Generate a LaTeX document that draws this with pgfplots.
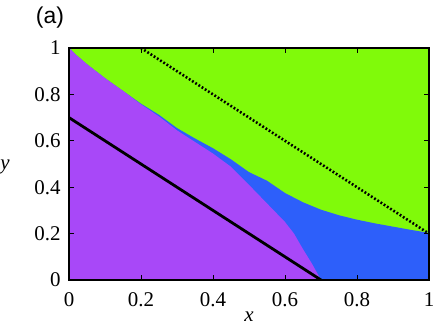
\documentclass[border=0pt]{standalone}
\usepackage{fontspec}
\setmainfont{Liberation Serif}
\newfontfamily\labelsans{Liberation Sans}
\usepackage{pgfplots}
\pgfplotsset{compat=1.18}

\definecolor{regiongreen}{RGB}{128,250,10}
\definecolor{regionblue}{RGB}{45,95,250}
\definecolor{regionpurple}{RGB}{168,72,248}

% upper edge of the coloured (non-green) region
\pgfplotstableread{
x y
0 1.0
0.02 0.97
0.05 0.93
0.1 0.87
0.15 0.815
0.2 0.76
0.25 0.712
0.3 0.655
0.35 0.61
0.4 0.568
0.45 0.52
0.5 0.465
0.55 0.428
0.6 0.375
0.65 0.335
0.7 0.303
0.75 0.279
0.8 0.26
0.85 0.244
0.9 0.23
0.95 0.216
1.0 0.203
}\greenedge

% upper edge of the purple region
\pgfplotstableread{
x y
0 1.0
0.02 0.97
0.05 0.93
0.1 0.87
0.15 0.815
0.2 0.757
0.25 0.705
0.3 0.645
0.35 0.595
0.4 0.545
0.45 0.488
0.5 0.41
0.55 0.33
0.6 0.25
0.625 0.2
0.65 0.133
0.675 0.07
0.7 0
}\purpleedge

\begin{document}
\begin{tikzpicture}
\useasboundingbox (-69bp,-50bp) rectangle (367bp,280bp);
\begin{axis}[
  scale only axis,
  width=360bp, height=232bp,
  xmin=0, xmax=1, ymin=0, ymax=1,
  xtick={0,0.2,...,1}, ytick={0,0.2,...,1},
  xticklabels={0,0.2,0.4,0.6,0.8,1},
  yticklabels={0,0.2,0.4,0.6,0.8,1},
  tick align=inside, xtick pos=both, ytick pos=both,
  major tick length=5bp,
  tick style={line width=0.9bp, black},
  axis line style={line width=1.3bp},
  axis on top,
  ticklabel style={font=\rmfamily\fontsize{21}{24}\selectfont},
  /pgf/number format/assume math mode=true,
  xticklabel style={yshift=-9bp},
  yticklabel style={xshift=-5bp},
  xlabel={\fontsize{21}{24}\selectfont\textit{x}},
  xlabel style={at={(axis description cs:0.5,0)}, anchor=center, yshift=-37bp},
  ylabel={\fontsize{21}{24}\selectfont\textit{y}},
  ylabel style={rotate=-90, at={(axis description cs:0,0.487)}, anchor=center, xshift=-64bp},
]
\addplot[fill=regiongreen, draw=none] coordinates {(0,1) (1,1)} \closedcycle;
\addplot[fill=regionblue, draw=none] table {\greenedge} \closedcycle;
\addplot[fill=regionpurple, draw=none] table {\purpleedge} \closedcycle;
\addplot[black, line width=2.8bp] coordinates {(0,0.7) (0.7,0)};
\addplot[black, line width=2.6bp, dash pattern=on 1.8bp off 2bp] coordinates {(0.2,1) (1,0.2)};
\end{axis}
\node[font=\labelsans\fontsize{23}{26}\selectfont] at (-19bp,262bp) {(a)};
\end{tikzpicture}
\end{document}
